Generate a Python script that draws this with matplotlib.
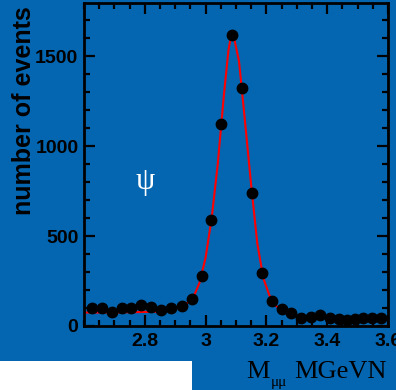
import matplotlib
matplotlib.use("Agg")
import matplotlib.pyplot as plt
from matplotlib.patches import Rectangle

# dimuon mass spectrum, J/psi peak
mass = [2.627, 2.659, 2.692, 2.724, 2.756, 2.789, 2.821, 2.854, 2.886, 2.922,
        2.955, 2.987, 3.019, 3.052, 3.088, 3.120, 3.153, 3.185, 3.218, 3.250,
        3.282, 3.315, 3.347, 3.377, 3.409, 3.438, 3.464, 3.490, 3.519, 3.549, 3.578]
events = [98, 102, 79, 98, 98, 117, 107, 89, 98, 113,
          150, 280, 589, 1122, 1617, 1324, 739, 293, 137, 94,
          72, 43, 48, 61, 45, 38, 33, 40, 43, 43, 45]

# fit curve
fit_m = [2.60, 2.70, 2.80, 2.85, 2.90, 2.93, 2.96, 2.98, 3.00, 3.02, 3.04, 3.06,
         3.075, 3.085, 3.095, 3.11, 3.13, 3.15, 3.17, 3.19, 3.21, 3.23, 3.25,
         3.28, 3.32, 3.40, 3.50, 3.60]
fit_n = [75, 75, 78, 80, 95, 115, 160, 240, 380, 600, 900, 1280,
         1530, 1625, 1590, 1470, 1130, 780, 460, 265, 170, 115, 85,
         65, 52, 45, 42, 40]

xticks = [2.8, 3.0, 3.2, 3.4, 3.6]
xticklabels = ['2.8', '3', '3.2', '3.4', '3.6']
yticks = [0, 500, 1000, 1500]

blue = '#0466b1'
W, H = 396, 390

fig = plt.figure(figsize=(3.96, 3.90), dpi=100, facecolor=blue)
ax = fig.add_axes([84 / W, 1 - 326 / H, (388 - 84) / W, (326 - 3) / H])
ax.set_facecolor(blue)

ax.plot(fit_m, fit_n, color='red', linewidth=1.5, zorder=2)
ax.plot(mass, events, 'o', color='black', markersize=7.5, zorder=3)

ax.set_xlim(2.6, 3.6)
ax.set_ylim(0, 1795)
ax.set_xticks(xticks)
ax.set_xticklabels(xticklabels)
ax.set_xticks([v / 100 for v in range(260, 361, 5)], minor=True)
ax.set_yticks(yticks)
ax.set_yticks(list(range(0, 1800, 100)), minor=True)

for s in ax.spines.values():
    s.set_linewidth(2)
    s.set_color('black')
ax.tick_params(which='both', direction='in', top=True, right=True, width=1.6, color='black')
ax.tick_params(which='major', length=8)
ax.tick_params(which='minor', length=4)
ax.tick_params(axis='y', pad=4)
ax.tick_params(axis='x', pad=5)
for lab in ax.get_xticklabels() + ax.get_yticklabels():
    lab.set_fontfamily('Liberation Sans')
    lab.set_fontweight('bold')
    lab.set_fontsize(14)

fig.text(24 / W, 1 - 111 / H, 'number of events', rotation=90, ha='center', va='center',
         fontsize=18, fontweight='bold', family='Liberation Sans', color='black')

# x label: M_mumu MGeVN
fig.text(246 / W, 1 - 378 / H, 'M', ha='left', va='baseline', fontsize=19,
         family='Liberation Serif', color='black')
fig.text(271 / W, 1 - 386 / H, 'μμ', ha='left', va='baseline', fontsize=11,
         family='Liberation Serif', color='black')
fig.text(294 / W, 1 - 378 / H, 'MGeVN', ha='left', va='baseline', fontsize=19,
         family='Liberation Serif', color='black')

fig.text(145 / W, 1 - 182 / H, 'ψ', ha='center', va='center', fontsize=22,
         family='Liberation Serif', color='white')

fig.patches.append(Rectangle((0, 0), 192 / W, 29 / H, transform=fig.transFigure,
                             facecolor='white', edgecolor='none', zorder=5))

fig.savefig('out.png', dpi=100, facecolor=blue)
